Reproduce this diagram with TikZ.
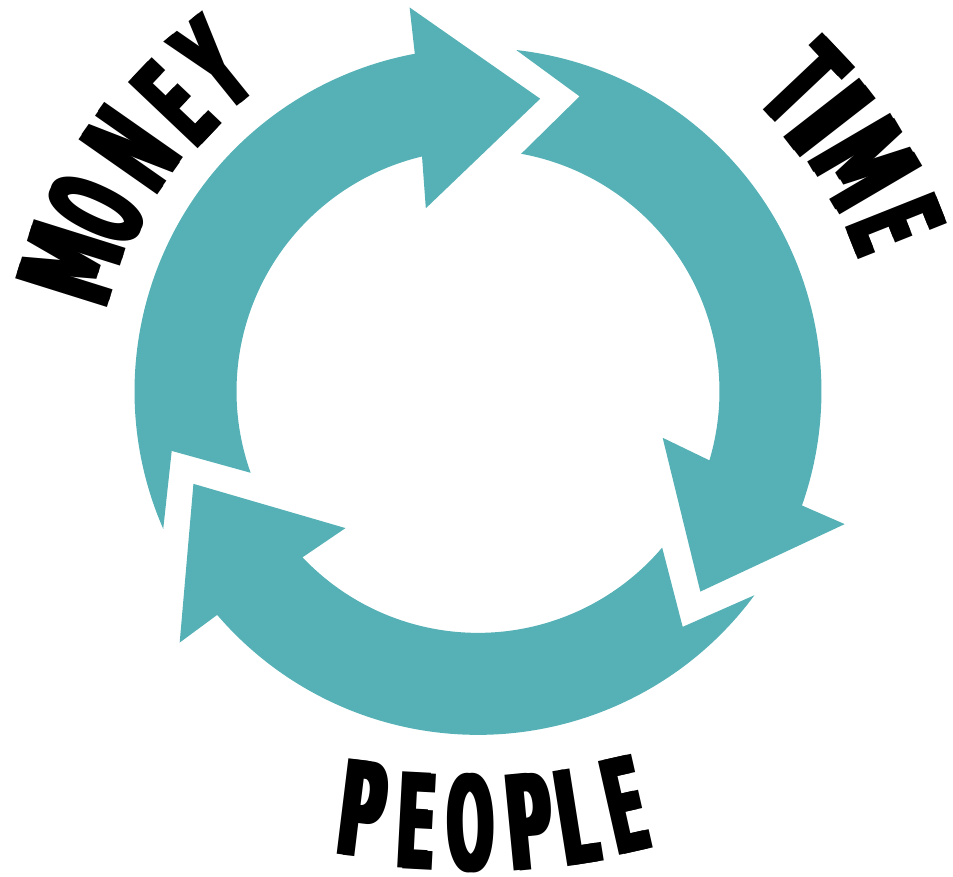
\documentclass[tikz,border=0pt]{standalone}
\usepackage{fontspec}
\setmainfont{DejaVu Sans}
\usepackage{graphicx}
\definecolor{cycleteal}{RGB}{85,177,181}
% tall, heavy and narrow letters
\newcommand{\heavy}[2][0.43]{\scalebox{#1}[1]{\rlap{#2}\kern3.5pt#2}}
\tikzset{
    ring/.style={fill=cycleteal},
    word/.style={font=\fontsize{37.5}{40}\selectfont\bfseries, inner sep=0pt},
}
\begin{document}
\begin{tikzpicture}[x=0.01cm,y=0.01cm]
    \useasboundingbox (-478,-485.6) rectangle (475,391.4);

    % money arrow, head at the top
    \fill[ring] (203.6:343.5) arc[start angle=203.6, end angle=100.6, radius=343.5]
        -- (100.1:390) -- (78:299.2) -- (105.9:190.4) -- (103.4:241.5)
        arc[start angle=103.4, end angle=199.7, radius=241.5] -- (191:312) -- cycle;
    % time arrow
    \fill[ring] (83.6:343.5) arc[start angle=83.6, end angle=-19.4, radius=343.5]
        -- (-19.9:390) -- (-42:299.2) -- (-14.1:190.4) -- (-16.6:241.5)
        arc[start angle=-16.6, end angle=79.7, radius=241.5] -- (71:312) -- cycle;
    % people arrow
    \fill[ring] (-36.4:343.5) arc[start angle=-36.4, end angle=-139.4, radius=343.5]
        -- (-139.9:390) -- (-162:299.2) -- (-134.1:190.4) -- (-136.6:241.5)
        arc[start angle=-136.6, end angle=-40.3, radius=241.5] -- (-49:312) -- cycle;

    % MONEY
    \node[word, rotate=72.6] (money1) at (162.6:427) {\heavy[0.52]{M}};
    \node[word, rotate=64.5] (money2) at (154.5:423) {\heavy[0.42]{O}};
    \node[word, rotate=55]   (money3) at (145:423)   {\heavy[0.46]{N}};
    \node[word, rotate=46.5] (money4) at (136.5:418) {\heavy{E}};
    \node[word, rotate=38.9] (money5) at (128.9:421) {\heavy[0.46]{Y}};

    % TIME
    \node[word, rotate=-46.6] (time1) at (43.35:449) {\heavy[0.48]{T}};
    \node[word, rotate=-52.1] (time2) at (37.86:446) {\heavy[0.70]{I}};
    \node[word, rotate=-59.6] (time3) at (30.44:449) {\heavy[0.52]{M}};
    \node[word, rotate=-68.3] (time4) at (21.67:450) {\heavy{E}};

    % PEOPLE
    \node[word, rotate=-7]   (people1) at (-115.3,-417.9) {\heavy[0.47]{P}};
    \node[word, rotate=-3]   (people2) at (-61.3,-429.6)  {\heavy{E}};
    \node[word, rotate=1]    (people3) at (-7.3,-431.3)   {\heavy[0.42]{O}};
    \node[word, rotate=5.5]  (people4) at (51.3,-430.3)   {\heavy[0.47]{P}};
    \node[word, rotate=9]    (people5) at (98.7,-425.3)   {\heavy[0.45]{L}};
    \node[word, rotate=12.7] (people6) at (147.7,-413.6)  {\heavy{E}};
\end{tikzpicture}
\end{document}
